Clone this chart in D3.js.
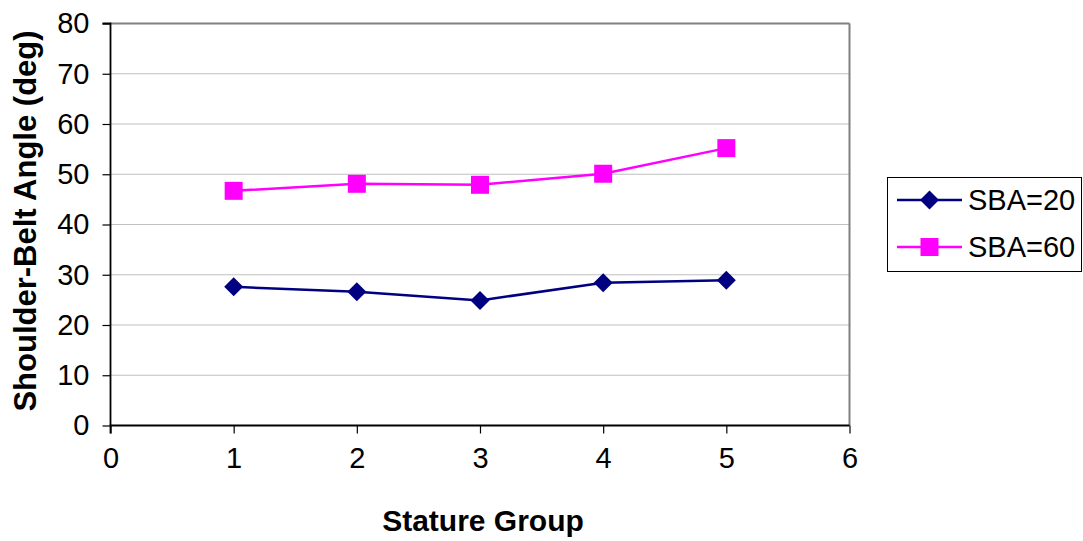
<!DOCTYPE html>
<html><head><meta charset="utf-8">
<script src="https://cdn.jsdelivr.net/npm/d3@7"></script>
<style>body{margin:0;background:#fff}svg{display:block}text{font-family:"Liberation Sans",Arial,sans-serif}</style>
</head><body><svg id="c" width="1083" height="541"></svg>
<script>
const groups = [1, 2, 3, 4, 5];
const sba20 = [27.6, 26.6, 24.9, 28.4, 28.9];
const sba60 = [46.7, 48.1, 47.9, 50.1, 55.2];
const xTicks = [0, 1, 2, 3, 4, 5, 6];
const yTicks = [0, 10, 20, 30, 40, 50, 60, 70, 80];
const seriesNames = ["SBA=20", "SBA=60"];

const svg = d3.select("#c");
const L = 110.5, R = 849.5, T = 23.5, B = 425.5;
const x = d3.scaleLinear().domain([0, 6]).range([L, R]);
const y = d3.scaleLinear().domain([0, 80]).range([B, T]);

// gridlines
svg.append("g").selectAll("line").data(yTicks.filter(v => v > 0 && v < 80)).join("line")
  .attr("x1", L).attr("x2", R).attr("y1", d => y(d)).attr("y2", d => y(d))
  .attr("stroke", "#c0c0c0").attr("stroke-width", 1.2);
// top & right border
svg.append("line").attr("x1", L).attr("x2", R).attr("y1", y(80)).attr("y2", y(80)).attr("stroke", "#808080").attr("stroke-width", 2);
svg.append("line").attr("x1", R).attr("x2", R).attr("y1", T).attr("y2", B).attr("stroke", "#808080").attr("stroke-width", 2);

// axes
const yAxis = svg.append("g").attr("transform", `translate(${L},0)`)
  .call(d3.axisLeft(y).tickValues(yTicks).tickSize(8).tickPadding(13).tickFormat(d3.format("d")));
const xAxis = svg.append("g").attr("transform", `translate(0,${B})`)
  .call(d3.axisBottom(x).tickValues(xTicks).tickSize(8).tickPadding(14).tickFormat(d3.format("d")));
[yAxis, xAxis].forEach(a => {
  a.select(".domain").attr("stroke", "#000").attr("stroke-width", 1.8);
  a.selectAll(".tick line").attr("stroke", "#000").attr("stroke-width", 1.2);
  a.selectAll("text").attr("font-size", 29).attr("fill", "#000").style("font-family", '"Liberation Sans",Arial,sans-serif');
});
yAxis.select(".domain").attr("d", `M-8,${T}H0V${B}`);
xAxis.select(".domain").attr("d", `M${L},8V0H${R}`);

// axis titles
svg.append("text").attr("x", 483).attr("y", 531).attr("text-anchor", "middle")
  .attr("font-size", 30).attr("font-weight", "bold").text("Stature Group");
svg.append("text").attr("transform", `translate(36,221) rotate(-90)`).attr("text-anchor", "middle")
  .attr("font-size", 31).attr("font-weight", "bold").text("Shoulder-Belt Angle (deg)");

const line = d3.line().x((d, i) => x(groups[i])).y(d => y(d));
const diamond = (s) => `M0,${-s}L${s},0L0,${s}L${-s},0Z`;
const square = (s) => `M${-s},${-s}H${s}V${s}H${-s}Z`;

// SBA=20
svg.append("path").datum(sba20).attr("d", line).attr("fill", "none").attr("stroke", "#000080").attr("stroke-width", 2.5);
svg.append("g").selectAll("path").data(sba20).join("path")
  .attr("transform", (d, i) => `translate(${x(groups[i])},${y(d)})`)
  .attr("d", diamond(9.5)).attr("fill", "#000080");
// SBA=60
svg.append("path").datum(sba60).attr("d", line).attr("fill", "none").attr("stroke", "#ff00ff").attr("stroke-width", 2.5);
svg.append("g").selectAll("path").data(sba60).join("path")
  .attr("transform", (d, i) => `translate(${x(groups[i])},${y(d)})`)
  .attr("d", square(9)).attr("fill", "#ff00ff");

// legend
const lg = svg.append("g");
lg.append("rect").attr("x", 887.5).attr("y", 177.5).attr("width", 194).attr("height", 94)
  .attr("fill", "#fff").attr("stroke", "#000").attr("stroke-width", 1);
const colors = ["#000080", "#ff00ff"];
const shapes = [diamond(9.5), square(9)];
seriesNames.forEach((n, i) => {
  const cy = 200 + i * 47;
  lg.append("line").attr("x1", 897).attr("x2", 962).attr("y1", cy).attr("y2", cy).attr("stroke", colors[i]).attr("stroke-width", 2.5);
  lg.append("path").attr("transform", `translate(929.5,${cy})`).attr("d", shapes[i]).attr("fill", colors[i]);
  lg.append("text").attr("x", 968).attr("y", cy).attr("dy", "0.36em").attr("font-size", 29).text(n);
});
</script></body></html>
